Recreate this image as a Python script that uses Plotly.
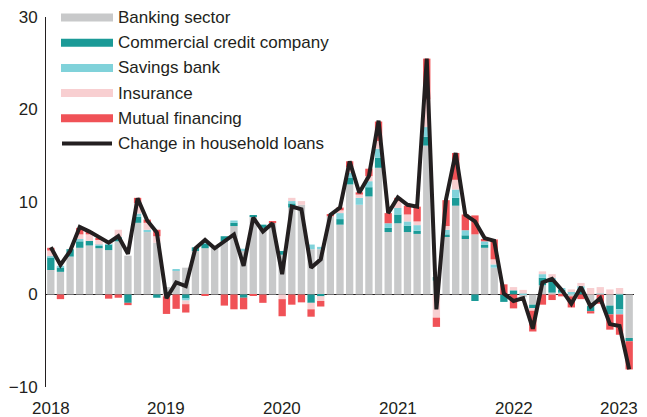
import plotly.graph_objects as go

months = [f"{y}-{m:02d}" for y in range(2018, 2023) for m in range(1, 13)] + ["2023-01"]

banking = [2.65, 2.45, 4.1, 5.05, 5.3, 5.0, 4.8, 5.75, 4.2, 7.75, 6.75, 5.6,
           0.8, 2.6, 2.9, 4.7, 5.0, 5.05, 5.75, 7.4, 4.8, 8.45, 7.2, 7.75,
           4.3, 9.4, 9.7, 4.9, 4.9, 8.45, 7.55, 11.9, 9.7, 10.6, 13.7, 6.75,
           7.7, 6.75, 6.55, 16.1, 1.5, 6.3, 9.6, 6.0, 6.5, 5.05, 2.9, 0.0,
           0.0, -0.3, -1.1, 1.0, 0.2, 0.2, -0.2, 0.0, -1.25, 0.0, -1.2, 0.1, -4.7]
commercial = [1.4, 0.45, 0.8, 0.7, 0.5, 0.25, 0.6, 0.45, -0.9, 0.65, 0.0, -0.35,
              0.0, 0.0, -0.45, 0.4, 0.5, 0.0, 0.55, 0.35, -0.35, 0.1, 0.35, 0.0,
              0.4, 0.45, 0.0, -0.9, -0.2, 0.0, 0.6, 0.7, 0.0, 1.0, 1.1, 0.45,
              0.95, 0.7, 0.35, 0.95, 0.4, 0.2, 0.85, 0.4, -0.7, 0.35, 0.0, -0.8,
              0.45, 0.0, -0.45, 0.8, 1.3, 0.3, 0.0, 0.45, -0.55, 0.0, -0.95, -1.6, -0.35]
savings = [0.1, 0.2, 0.0, 0.25, 0.0, 0.15, 0.15, 0.0, 0.0, 0.35, 0.25, 0.0,
           0.0, 0.15, -0.2, 0.0, 0.2, 0.0, 0.0, 0.25, 0.15, 0.0, 0.0, 0.0,
           0.0, 0.25, 0.0, 0.5, 0.25, 0.0, 0.65, 0.55, 0.75, 0.65, 0.95, 0.5,
           0.7, 0.45, 0.6, 1.05, 0.0, 0.5, 0.9, 0.55, 0.0, 0.35, 0.35, 0.0,
           0.0, 0.1, 0.0, 0.4, 0.3, 0.2, 0.35, 0.45, 0.0, 0.1, 0.0, -0.55, 0.0]
insurance = [0.6, 0.0, 0.0, 0.5, 0.7, 0.55, 0.2, 0.8, 0.0, 1.15, 0.75, 0.7,
             -0.2, 0.0, -0.4, 0.0, 0.0, 0.0, 0.0, 0.0, 0.0, 0.0, 0.0, 0.0,
             -0.5, 0.35, 0.4, -0.7, -0.5, 0.0, 0.3, 0.6, 0.35, 0.55, 0.85, 0.0,
             0.75, 0.75, 0.4, 3.0, -2.5, 0.4, 1.05, 0.0, 0.0, 0.0, 0.55, 0.0,
             0.35, 0.4, -0.2, 0.3, 0.4, 0.0, 0.2, 0.35, 0.7, 0.7, 0.55, 0.6, 0.0]
mutual = [0.3, -0.5, 0.0, 0.7, 0.35, 0.15, -0.45, -0.35, -0.25, 0.55, 0.35, 0.7,
          -1.9, -1.55, -0.9, 0.0, -0.1, 0.0, -1.2, -1.6, -1.25, -0.15, -0.9, 0.15,
          -1.85, -1.1, -0.85, -0.8, -0.6, 0.25, 0.3, 0.65, 0.25, 0.8, 2.1, 1.1,
          0.35, 0.95, 1.6, 4.4, -1.0, 2.8, 2.9, 1.7, 2.05, 0.25, 2.15, 1.1,
          -1.5, 0.0, -2.25, -1.1, -0.6, -0.2, -1.2, -0.5, -0.25, -1.0, -1.65, -2.2, -3.05]
household = [5.1, 3.2, 4.7, 7.3, 6.8, 6.2, 5.6, 6.3, 4.4, 10.4, 8.0, 6.7,
             -0.4, 1.3, 0.9, 5.0, 5.9, 5.0, 5.8, 6.5, 3.1, 8.3, 6.8, 7.7,
             2.2, 9.5, 9.2, 2.9, 3.8, 8.6, 9.4, 14.4, 11.0, 12.8, 18.8, 8.8,
             10.5, 9.7, 9.5, 25.5, -1.6, 10.3, 15.3, 8.6, 7.9, 6.1, 5.8, 0.1,
             -0.7, -0.4, -3.7, 1.3, 1.7, 0.5, -1.0, 0.8, -1.3, -0.4, -3.2, -3.4, -8.1]

year_ticks = ["2018-01", "2019-01", "2020-01", "2021-01", "2022-01", "2023-01"]
year_labels = ["2018", "2019", "2020", "2021", "2022", "2023"]

series = [
    ("Banking sector", banking, "#c8c9ca"),
    ("Commercial credit company", commercial, "#1b9a97"),
    ("Savings bank", savings, "#80d2da"),
    ("Insurance", insurance, "#f8cfd1"),
    ("Mutual financing", mutual, "#f05257"),
]
line_name = "Change in household loans"
line_color = "#231f20"

FONT = "Liberation Sans, Arial, sans-serif"
TXT = "#231f20"
FS = 17

fig = go.Figure()
for name, vals, col in series:
    fig.add_trace(go.Bar(x=months, y=vals, name=name, marker=dict(color=col, line=dict(width=0)),
                         showlegend=False))
fig.add_trace(go.Scatter(x=months, y=household, mode="lines", name=line_name,
                         line=dict(color=line_color, width=4), showlegend=False))

# the page body has an 8px margin; the figure is offset accordingly
OFF = 8
FW, FH = 647 - OFF, 417 - OFF
L, R, T, B = 38, 13, 9, 30
W, H = FW - L - R, FH - T - B
def px(x):
    return (x - OFF - L) / W
def py(y):
    return (FH - B - (y - OFF)) / H

legend_items = [(n, c) for n, _, c in series] + [(line_name, line_color)]
y0 = 17.5
step = 25.2
for k, (name, col) in enumerate(legend_items):
    yc = y0 + k * step
    if k < len(series):
        fig.add_shape(type="rect", xref="paper", yref="paper",
                      x0=px(61), x1=px(113), y0=py(yc + 4), y1=py(yc - 4),
                      fillcolor=col, line=dict(width=0), layer="above")
    else:
        fig.add_shape(type="line", xref="paper", yref="paper",
                      x0=px(62), x1=px(112), y0=py(yc), y1=py(yc),
                      line=dict(color=col, width=4), layer="above")
    fig.add_annotation(xref="paper", yref="paper", x=px(116), y=py(yc), text=name,
                       showarrow=False, xanchor="left", yanchor="middle",
                       font=dict(family=FONT, size=FS, color=TXT))

# year labels on the category axis (last one kept inside the visible page)
for k, (tv, tl) in enumerate(zip(year_ticks, year_labels)):
    last = k == len(year_ticks) - 1
    fig.add_annotation(xref="x", yref="paper", x=tv, y=0, text=tl, showarrow=False,
                       xanchor="right" if last else "center", yanchor="middle",
                       xshift=10 if last else 0, yshift=-21,
                       height=17, borderpad=0, valign="middle",
                       font=dict(family=FONT, size=FS, color=TXT))

fig.update_layout(
    width=FW, height=FH,
    margin=dict(l=L, r=R, t=T, b=B),
    paper_bgcolor="white", plot_bgcolor="white",
    barmode="relative", bargap=0.24,
    font=dict(family=FONT, size=FS, color=TXT),
    showlegend=False,
)
fig.update_xaxes(type="category", categoryorder="array", categoryarray=months,
                 range=[-0.5, len(months) - 0.5], automargin=False,
                 showticklabels=False,
                 showgrid=False, showline=False, ticks="", zeroline=False)
fig.update_yaxes(range=[-10, 30], tickvals=[-10, 0, 10, 20, 30], automargin=False,
                 ticklabeloverflow="allow",
                 showgrid=False, showline=True, linecolor="#231f20", linewidth=1,
                 ticks="", zeroline=True, zerolinecolor="#231f20", zerolinewidth=1,
                 ticklabelstandoff=4, tickfont=dict(family=FONT, size=FS, color=TXT))

fig.write_html("out.html")
